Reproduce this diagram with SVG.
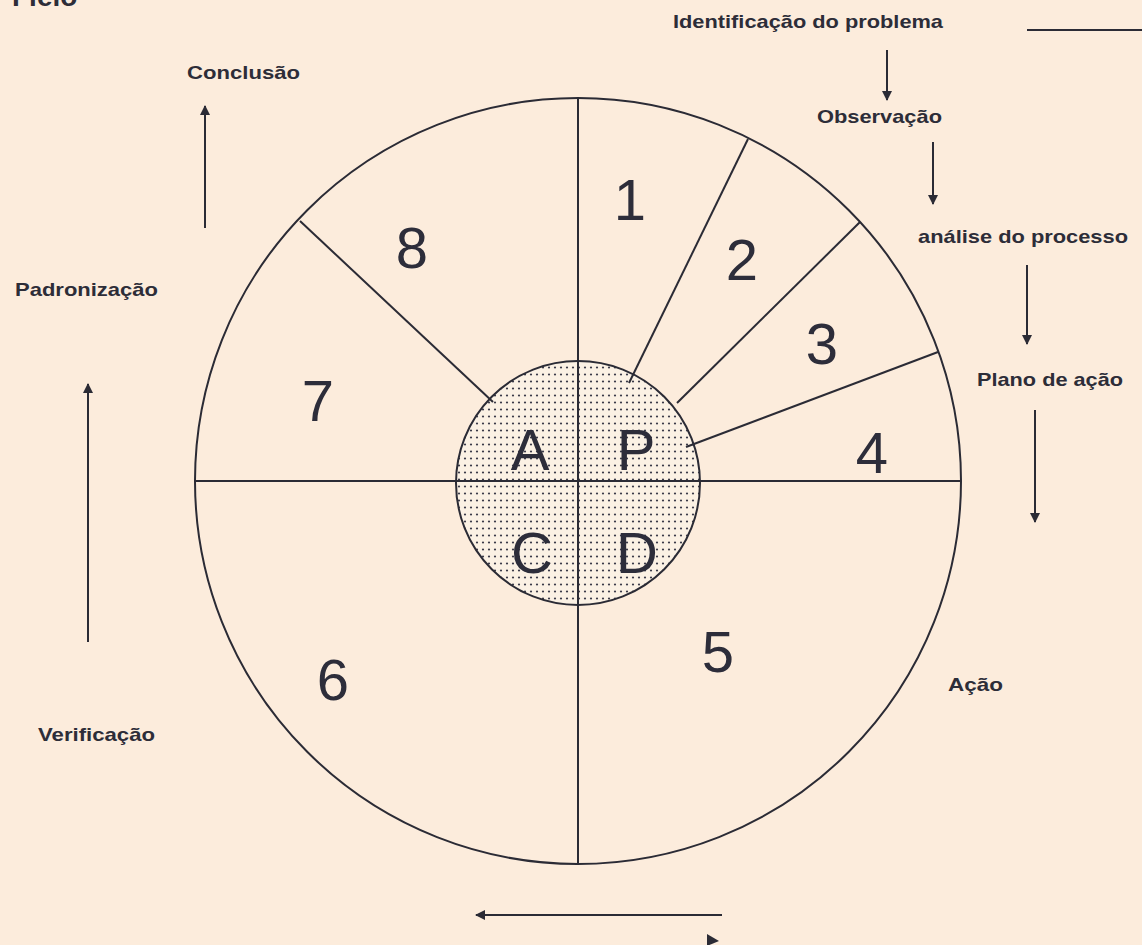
<svg xmlns="http://www.w3.org/2000/svg" width="1142" height="945" viewBox="0 0 1142 945">
<style>
.ln{stroke:#2b2b35;stroke-width:2;fill:none}
.lbl{font-family:"Liberation Sans",Arial,sans-serif;font-weight:bold;font-size:19px;fill:#2d2d38}
.num{font-family:"Liberation Sans",Arial,sans-serif;font-size:58px;fill:#2d2d3a;text-anchor:middle}
.arr{stroke:#2b2b35;stroke-width:2;fill:none;marker-end:url(#ah)}
</style>
<defs>
<marker id="ah" viewBox="0 0 10 10" refX="9" refY="5" markerWidth="5" markerHeight="5" orient="auto" markerUnits="strokeWidth">
<path d="M0,0 L10,5 L0,10 Z" fill="#2b2b35"/>
</marker>
<pattern id="dots" x="0" y="0" width="6" height="7" patternUnits="userSpaceOnUse">
<rect width="6" height="7" fill="#fbf1e4"/>
<circle cx="3" cy="3.5" r="1.1" fill="#3a3a48"/>
</pattern>
</defs>
<rect width="1142" height="945" fill="#fcecdc"/>
<text x="12" y="6" style="font-family:'Liberation Sans',Arial,sans-serif;font-size:28px;font-weight:bold;fill:#2d2d38">Fielo</text>

<g id="wheel">
<circle cx="578" cy="481" r="383" fill="#fcefe0" class="ln"/>
<circle cx="578" cy="483" r="122" fill="url(#dots)" stroke="#2b2b35" stroke-width="2"/>
</g>

<g id="connectors">
<line class="ln" x1="578" y1="98" x2="578" y2="864"/>
<line class="ln" x1="195" y1="481" x2="961" y2="481"/>
<line class="ln" x1="629" y1="383" x2="748" y2="139"/>
<line class="ln" x1="677" y1="403" x2="860" y2="222"/>
<line class="ln" x1="686" y1="447" x2="938" y2="352"/>
<line class="ln" x1="493" y1="402" x2="300" y2="221"/>
<line class="ln" x1="1027" y1="30" x2="1142" y2="30"/>
<line class="arr" x1="887" y1="50" x2="887" y2="100"/>
<line class="arr" x1="933" y1="142" x2="933" y2="204"/>
<line class="arr" x1="1027" y1="265" x2="1027" y2="344"/>
<line class="arr" x1="1035" y1="410" x2="1035" y2="522"/>
<line class="arr" x1="205" y1="228" x2="205" y2="106"/>
<line class="arr" x1="88" y1="642" x2="88" y2="384"/>
<line class="arr" x1="722" y1="915" x2="476" y2="915"/>
<path d="M707,934 L719,941 L707,946 Z" fill="#2b2b35"/>
</g>

<g id="sector-numbers">
<text class="num" x="630" y="220">1</text>
<text class="num" x="742" y="280">2</text>
<text class="num" x="822" y="364">3</text>
<text class="num" x="872" y="473">4</text>
<text class="num" x="718" y="672">5</text>
<text class="num" x="333" y="700">6</text>
<text class="num" x="318" y="421">7</text>
<text class="num" x="412" y="268">8</text>
</g>

<g id="pdca">
<text class="num" x="530" y="470">A</text>
<text class="num" x="636" y="470">P</text>
<text class="num" x="532" y="573">C</text>
<text class="num" x="637" y="573">D</text>
</g>

<g id="node-identificacao"><text class="lbl" x="673" y="28" textLength="270" lengthAdjust="spacingAndGlyphs">Identificação do problema</text></g>
<g id="node-observacao"><text class="lbl" x="817" y="123" textLength="125" lengthAdjust="spacingAndGlyphs">Observação</text></g>
<g id="node-analise"><text class="lbl" x="918" y="243" textLength="210" lengthAdjust="spacingAndGlyphs">análise do processo</text></g>
<g id="node-plano"><text class="lbl" x="977" y="386" textLength="146" lengthAdjust="spacingAndGlyphs">Plano de ação</text></g>
<g id="node-acao"><text class="lbl" x="948" y="691" textLength="55" lengthAdjust="spacingAndGlyphs">Ação</text></g>
<g id="node-conclusao"><text class="lbl" x="187" y="79" textLength="113" lengthAdjust="spacingAndGlyphs">Conclusão</text></g>
<g id="node-padronizacao"><text class="lbl" x="15" y="296" textLength="143" lengthAdjust="spacingAndGlyphs">Padronização</text></g>
<g id="node-verificacao"><text class="lbl" x="38" y="741" textLength="117" lengthAdjust="spacingAndGlyphs">Verificação</text></g>
</svg>
